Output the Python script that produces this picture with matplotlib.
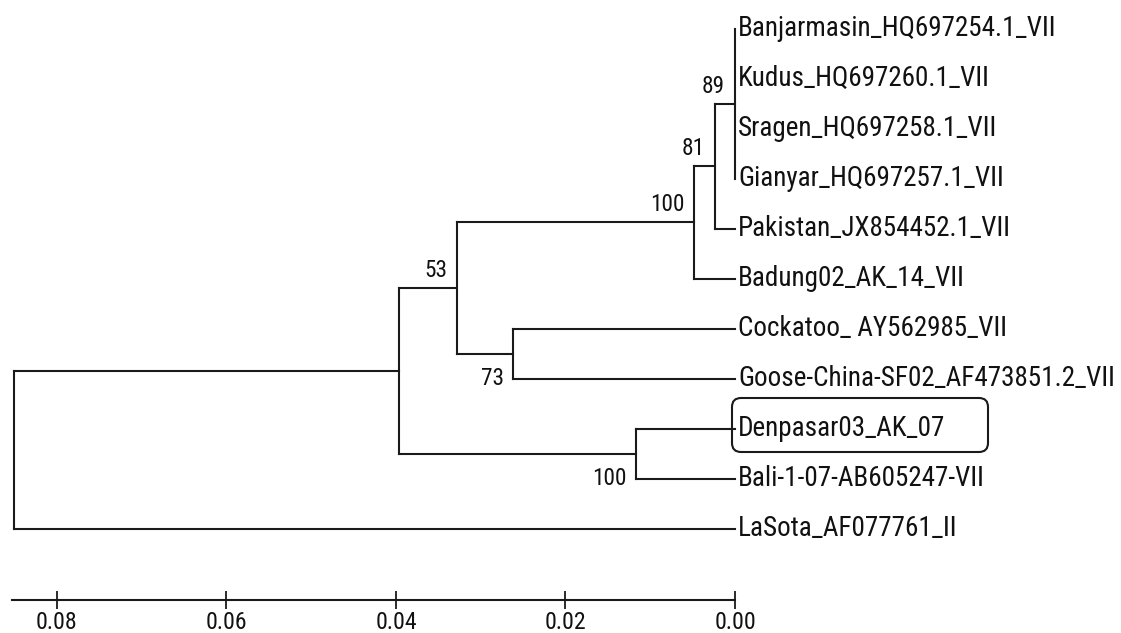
import matplotlib
matplotlib.use("Agg")
import matplotlib.pyplot as plt
from matplotlib import font_manager as fm
from matplotlib.patches import FancyBboxPatch
from matplotlib.transforms import IdentityTransform

# ---------------- data ----------------
taxa = [
    "Banjarmasin_HQ697254.1_VII",
    "Kudus_HQ697260.1_VII",
    "Sragen_HQ697258.1_VII",
    "Gianyar_HQ697257.1_VII",
    "Pakistan_JX854452.1_VII",
    "Badung02_AK_14_VII",
    "Cockatoo_ AY562985_VII",
    "Goose-China-SF02_AF473851.2_VII",
    "Denpasar03_AK_07",
    "Bali-1-07-AB605247-VII",
    "LaSota_AF077761_II",
]
node_names = ["n89", "n81", "n100a", "n73", "n53", "n100b", "nA", "root"]
node_children = [
    [0, 1, 2, 3],
    ["n89", 4],
    ["n81", 5],
    [6, 7],
    ["n100a", "n73"],
    [8, 9],
    ["n53", "n100b"],
    ["nA", 10],
]
node_depths = [0.0000, 0.0024, 0.0048, 0.0262, 0.0328, 0.0117, 0.0396, 0.0851]
node_bootstrap = [89, 81, 100, 73, 53, 100, None, None]
highlight_taxon = "Denpasar03_AK_07"
scale_ticks = [0.08, 0.06, 0.04, 0.02, 0.00]

# ---------------- fonts ----------------
available = {f.name for f in fm.fontManager.ttflist}
FAM = "Liberation Sans"
for cand in ["Liberation Sans Narrow", "Roboto Condensed", "PT Sans Narrow", "Archivo Narrow"]:
    if cand in available:
        FAM = cand
        break
plt.rcParams["font.family"] = [FAM, "DejaVu Sans"]

LC = "#1a1a1a"
TC = "#111111"
LW = 1.5

fig = plt.figure(figsize=(11.21, 6.33), dpi=100)
W, H = 1121, 633
renderer = fig.canvas.get_renderer()


def fit_size(sample, target_px):
    t = fig.text(0, 0, sample, fontsize=10, family=[FAM])
    w = t.get_window_extent(renderer).width
    t.remove()
    return 10 * target_px / w


leaf_fs = fit_size("Denpasar03_AK_07", 206)
boot_fs = fit_size("100", 34)
tick_fs = fit_size("0.08", 41)

ax_left, ax_right = 12, 735
ax_top_px, ax_bot_px = 0, 600
ax = fig.add_axes([ax_left / W, (H - ax_bot_px) / H,
                   (ax_right - ax_left) / W, (ax_bot_px - ax_top_px) / H])
ax.set_xlim(0.0853, 0.0)
ax.set_ylim(11.43, -0.57)

depth = {}
ypos = {}
for i, t in enumerate(taxa):
    depth[i] = 0.0
    ypos[i] = float(i)
for name, ch, d in zip(node_names, node_children, node_depths):
    depth[name] = d
    ys = [ypos[c] for c in ch]
    ypos[name] = (min(ys) + max(ys)) / 2.0

for name, ch in zip(node_names, node_children):
    d = depth[name]
    ys = [ypos[c] for c in ch]
    ax.plot([d, d], [min(ys), max(ys)], color=LC, lw=LW,
            solid_capstyle="projecting", clip_on=False)
    for c in ch:
        ax.plot([d, depth[c]], [ypos[c], ypos[c]], color=LC, lw=LW,
                solid_capstyle="projecting", clip_on=False)

for i, t in enumerate(taxa):
    ax.annotate(t, xy=(0.0, ypos[i]), xytext=(3, -7), textcoords="offset pixels",
                ha="left", va="baseline", fontsize=leaf_fs, color=TC,
                annotation_clip=False)

below = {"n73", "n100b"}
for name, b in zip(node_names, node_bootstrap):
    if b is None:
        continue
    off = (-9, -31) if name in below else (-10, 11)
    ax.annotate(str(b), xy=(depth[name], ypos[name]), xytext=off,
                textcoords="offset pixels", ha="right", va="baseline",
                fontsize=boot_fs, color=TC, annotation_clip=False)

hi = taxa.index(highlight_taxon)
px, py = ax.transData.transform((0.0, ypos[hi]))
box = FancyBboxPatch((px - 3, py - 23.5), 256, 54,
                     boxstyle="round,pad=0,rounding_size=9",
                     transform=IdentityTransform(), fill=False,
                     edgecolor=LC, lw=1.5)
fig.add_artist(box)

for s in ["left", "right", "top"]:
    ax.spines[s].set_visible(False)
ax.spines["bottom"].set_color(LC)
ax.spines["bottom"].set_linewidth(LW)
ax.set_yticks([])
ax.set_xticks(scale_ticks)
ax.set_xticklabels([f"{v:.2f}" for v in scale_ticks])
ax.tick_params(axis="x", direction="inout", length=12.5, width=1.3,
               color=LC, pad=1.5, labelsize=tick_fs, labelcolor=TC)
ax.patch.set_visible(False)

fig.savefig("out.png", dpi=100)
